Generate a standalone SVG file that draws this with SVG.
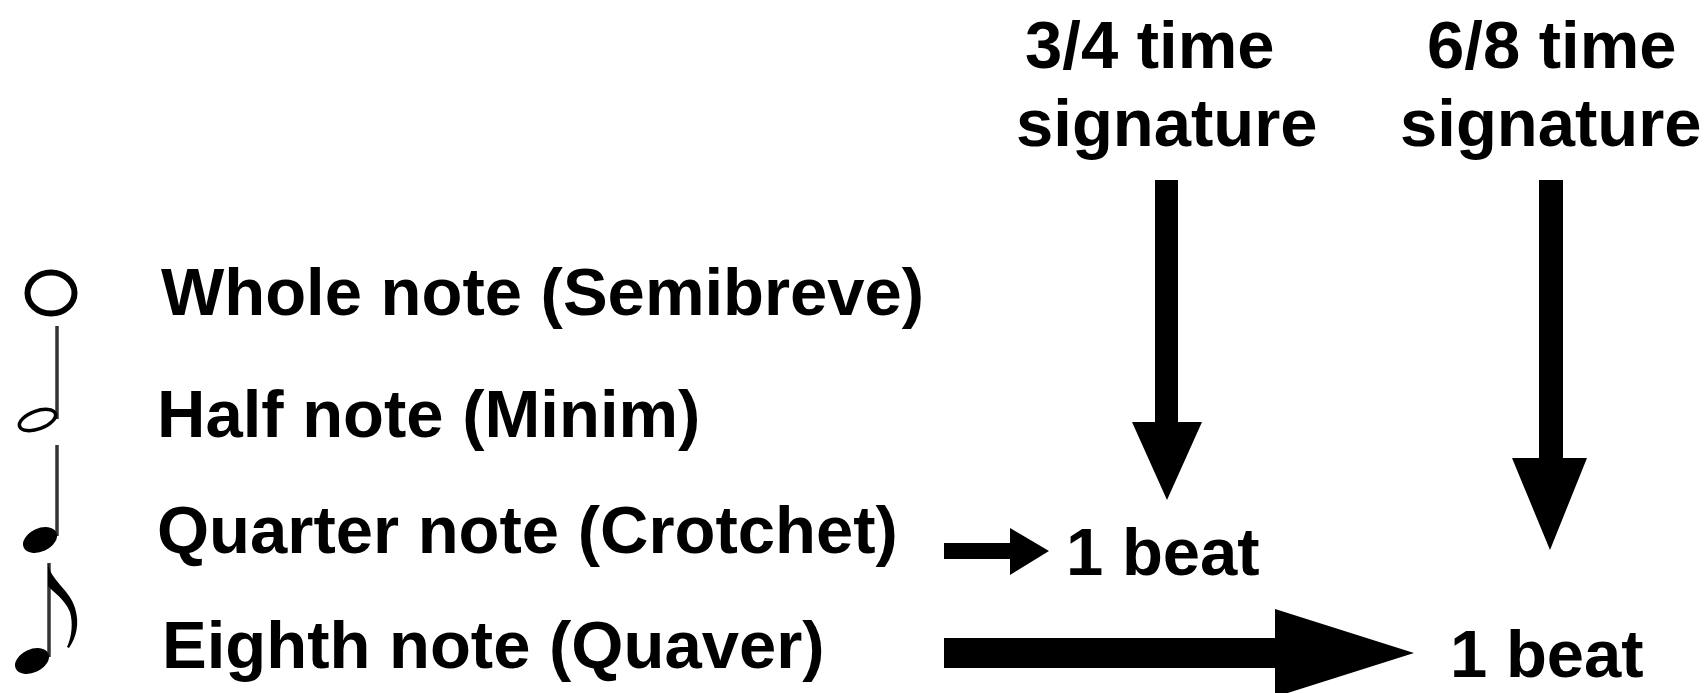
<svg xmlns="http://www.w3.org/2000/svg" width="1706" height="693" viewBox="0 0 1706 693">
<style>
.t{font-family:"Liberation Sans",Arial,sans-serif;font-weight:bold;font-size:67px;fill:#000}
.stem{stroke:#333;stroke-width:3.5;fill:none}
.ar{fill:#000;stroke:none}
</style>
<rect width="1706" height="693" fill="#fff"/>
<g id="whole-note">
<ellipse cx="51" cy="293" rx="23.5" ry="20.5" fill="none" stroke="#000" stroke-width="6"/>
<text class="t" x="161" y="315">Whole note (Semibreve)</text>
</g>
<g id="half-note">
<line class="stem" x1="57" y1="326" x2="57" y2="419"/>
<ellipse cx="37.5" cy="420" rx="19" ry="9" transform="rotate(-20 37.5 420)" fill="none" stroke="#000" stroke-width="3.5"/>
<text class="t" x="157" y="437">Half note (Minim)</text>
</g>
<g id="quarter-note">
<line class="stem" x1="57" y1="445" x2="57" y2="536"/>
<ellipse cx="40" cy="540" rx="18" ry="11.5" transform="rotate(-25 40 540)" fill="#000"/>
<text class="t" x="157" y="553">Quarter note (Crotchet)</text>
</g>
<g id="eighth-note">
<line class="stem" x1="49" y1="563" x2="49" y2="657"/>
<ellipse cx="32" cy="661" rx="18" ry="11.5" transform="rotate(-25 32 661)" fill="#000"/>
<path d="M48 563 C50 580 70 590 75 608 C80 624 76 638 69 648 L67 647 C72 636 73 623 70 612 C64 598 53 592 48 586 Z" fill="#000"/>
<text class="t" x="162" y="668">Eighth note (Quaver)</text>
</g>
<g id="sig-34">
<text class="t" x="1025" y="68">3/4 time</text>
<text class="t" x="1016" y="146">signature</text>
</g>
<g id="sig-68">
<text class="t" x="1427" y="68">6/8 time</text>
<text class="t" x="1400" y="146">signature</text>
</g>
<g id="beat-1">
<text class="t" x="1066" y="575">1 beat</text>
</g>
<g id="beat-2">
<text class="t" x="1450" y="677">1 beat</text>
</g>
<g id="connectors">
<polygon class="ar" points="1155,180 1178,180 1178,422 1202,422 1167,500 1132,422 1155,422"/>
<polygon class="ar" points="1539,180 1563,180 1563,458 1587,458 1550,550 1512,458 1539,458"/>
<polygon class="ar" points="944,543 1010,543 1010,528 1049,551 1010,575 1010,559 944,559"/>
<polygon class="ar" points="944,638 1275,638 1275,609 1414,653 1275,697 1275,668 944,668"/>
</g>
</svg>
